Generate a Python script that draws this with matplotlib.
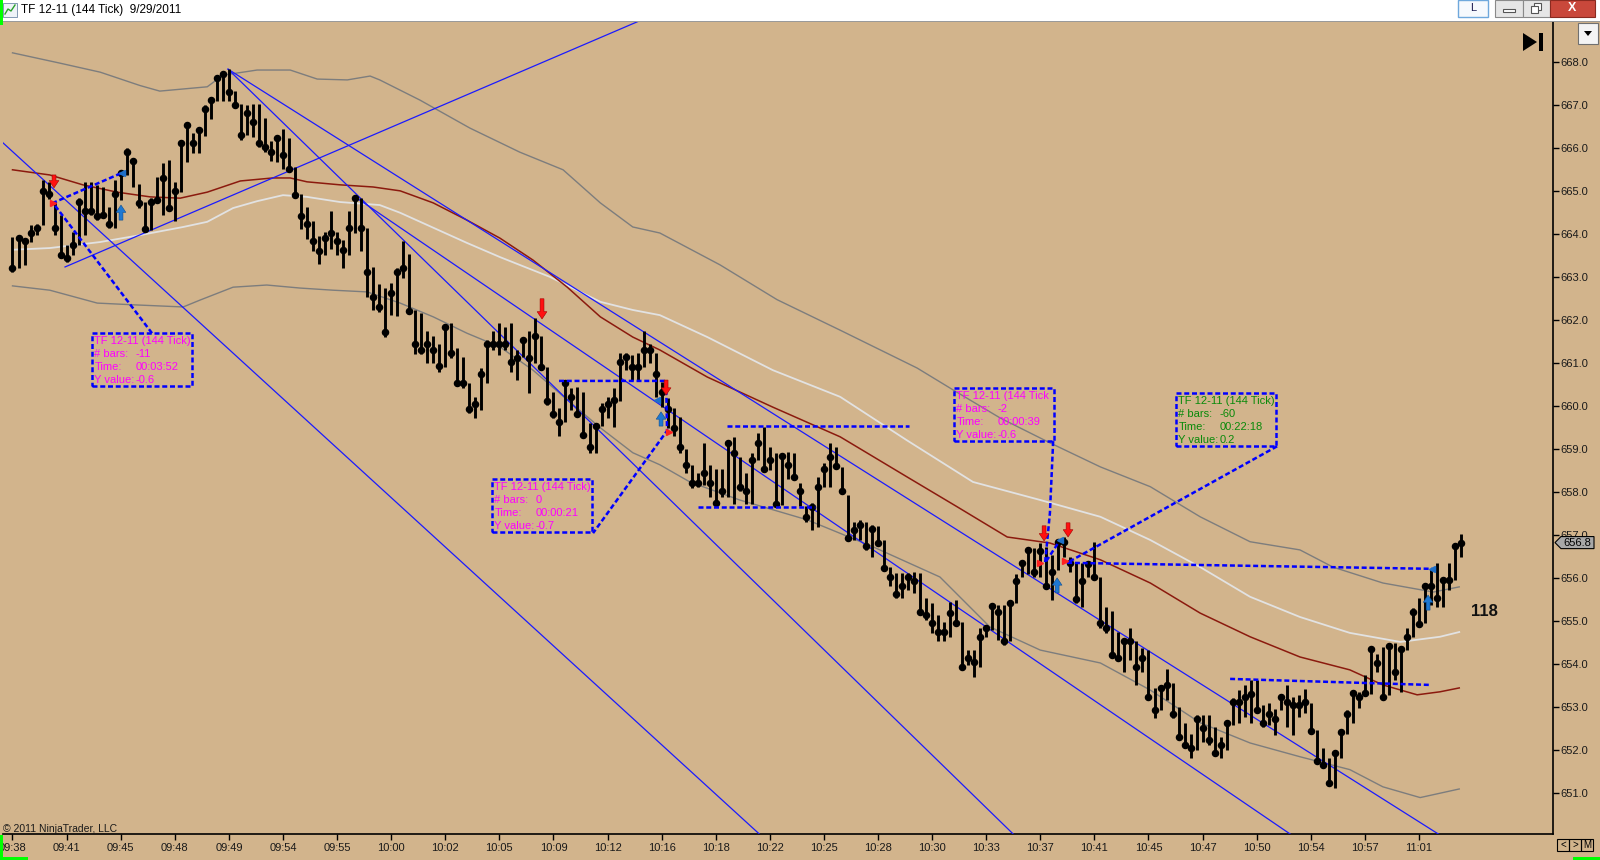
import numpy as np
import matplotlib
matplotlib.use("Agg")
import matplotlib.pyplot as plt
import matplotlib.transforms as mtransforms
from matplotlib.patches import Rectangle, Polygon
from matplotlib.ticker import FormatStrFormatter

# ---- 144 tick bars: high / low / close ----
highs = [
    663.94, 663.96, 663.90, 664.21, 664.25, 665.26, 665.22, 664.76, 664.45, 663.75,
    664.06, 664.84, 665.22, 665.22, 665.15, 665.11, 664.64, 665.26, 665.46, 666.00,
    665.73, 665.18, 664.76, 664.84, 665.34, 665.65, 665.73, 665.22, 666.19, 666.58,
    666.35, 666.50, 667.01, 667.20, 667.70, 667.80, 667.84, 667.33, 667.02, 667.01,
    667.02, 667.02, 666.71, 666.17, 666.29, 666.45, 666.23, 665.57, 664.93, 664.64,
    664.30, 663.95, 664.06, 664.54, 664.06, 663.87, 664.53, 664.88, 664.84, 664.15,
    663.25, 662.84, 662.74, 662.86, 663.21, 663.84, 663.54, 662.24, 662.16, 661.74,
    661.63, 661.46, 661.89, 661.93, 661.35, 661.14, 660.53, 660.22, 660.88, 661.54,
    661.74, 661.93, 661.85, 661.93, 661.31, 661.58, 661.74, 662.05, 661.64, 660.92,
    660.34, 659.95, 660.61, 660.42, 660.44, 660.34, 659.60, 659.57, 660.07, 660.22,
    660.42, 661.23, 661.23, 661.19, 661.23, 661.76, 661.45, 661.25, 660.57, 660.19,
    659.95, 659.76, 659.00, 658.63, 658.44, 659.14, 658.63, 658.53, 658.53, 659.22,
    659.29, 658.83, 658.44, 658.92, 659.37, 659.51, 659.06, 658.92, 658.90, 658.94,
    658.92, 658.21, 657.67, 657.74, 658.36, 658.67, 659.14, 659.06, 658.59, 657.94,
    657.32, 657.36, 657.32, 657.24, 657.22, 656.89, 656.27, 656.13, 656.13, 656.12,
    656.15, 656.13, 655.53, 655.42, 655.14, 654.99, 655.46, 655.50, 654.99, 654.33,
    654.33, 654.84, 654.91, 655.42, 655.38, 655.38, 655.50, 656.11, 656.39, 656.70,
    656.70, 656.81, 656.73, 656.54, 656.89, 656.97, 656.50, 656.35, 656.36, 656.39,
    656.85, 656.04, 655.34, 655.25, 654.76, 654.56, 654.84, 654.53, 654.37, 654.33,
    653.44, 653.52, 653.90, 653.56, 653.01, 652.63, 652.39, 652.82, 652.82, 652.82,
    652.55, 652.32, 652.70, 653.21, 653.40, 653.52, 653.63, 653.63, 653.05, 653.09,
    652.97, 653.32, 653.52, 653.25, 653.29, 653.42, 653.09, 652.47, 652.05, 651.81,
    652.00, 652.47, 652.94, 653.40, 653.36, 653.75, 654.41, 654.25, 654.41, 654.49,
    654.50, 654.41, 654.84, 655.30, 655.53, 655.88, 656.21, 656.35, 656.00, 656.35,
    656.77, 657.04]

lows = [
    663.13, 663.21, 663.29, 663.83, 663.98, 664.21, 664.83, 663.98, 663.44, 663.36,
    663.52, 663.75, 663.98, 664.45, 664.33, 664.37, 664.14, 664.14, 664.80, 665.38,
    665.11, 664.60, 664.06, 664.10, 664.76, 664.45, 664.55, 664.31, 664.99, 665.69,
    665.88, 665.90, 666.29, 666.68, 667.10, 667.10, 667.10, 666.93, 666.19, 666.31,
    666.27, 666.04, 665.92, 665.70, 665.69, 665.52, 665.47, 664.88, 664.12, 663.89,
    663.60, 663.30, 663.52, 663.66, 663.52, 663.21, 663.52, 664.02, 663.60, 662.55,
    662.24, 662.20, 661.62, 662.12, 662.11, 662.98, 662.15, 661.22, 661.22, 661.01,
    661.01, 660.80, 660.91, 661.12, 660.47, 660.42, 659.85, 659.72, 659.91, 660.53,
    661.31, 661.19, 661.31, 660.80, 660.61, 661.15, 660.32, 661.01, 660.84, 660.03,
    659.72, 659.31, 659.64, 659.91, 659.76, 659.29, 658.91, 658.91, 659.53, 659.72,
    659.51, 660.13, 660.84, 660.61, 660.61, 660.92, 661.00, 660.21, 659.99, 659.49,
    659.30, 658.92, 658.44, 658.11, 658.13, 658.17, 657.90, 657.68, 657.90, 657.90,
    657.73, 658.04, 657.73, 657.73, 658.75, 658.48, 658.52, 657.70, 657.70, 658.32,
    658.29, 657.67, 657.32, 657.12, 657.20, 658.13, 658.13, 658.56, 657.97, 656.87,
    656.89, 656.89, 656.66, 656.50, 656.77, 656.17, 655.81, 655.53, 655.53, 655.73,
    655.65, 655.19, 655.03, 654.72, 654.53, 654.53, 654.64, 654.91, 653.87, 653.98,
    653.71, 653.94, 654.64, 654.80, 654.56, 654.45, 654.53, 655.42, 656.04, 656.11,
    656.04, 656.04, 655.80, 655.49, 656.19, 656.50, 656.15, 655.42, 655.34, 656.04,
    655.96, 654.84, 654.72, 654.16, 654.10, 653.83, 654.10, 653.52, 653.83, 653.21,
    652.74, 652.94, 653.17, 652.74, 652.24, 652.05, 651.81, 652.01, 652.20, 652.12,
    651.93, 651.81, 652.01, 652.59, 652.63, 652.78, 652.63, 652.86, 652.55, 652.59,
    652.36, 652.94, 652.55, 652.36, 652.78, 652.86, 652.39, 651.71, 651.58, 651.19,
    651.12, 651.81, 652.39, 652.63, 652.98, 653.29, 653.32, 653.83, 653.21, 653.29,
    653.63, 653.36, 654.33, 654.64, 654.88, 654.95, 655.38, 655.34, 655.34, 655.73,
    655.96, 656.50]

closes = [
    663.22, 663.92, 663.85, 664.02, 664.14, 665.01, 664.93, 664.14, 663.52, 663.44,
    663.75, 664.76, 664.53, 664.53, 664.43, 664.45, 664.24, 664.93, 665.43, 665.92,
    665.71, 664.73, 664.12, 664.76, 664.80, 665.32, 664.62, 665.01, 666.13, 666.53,
    666.13, 666.43, 666.91, 667.13, 667.63, 667.72, 667.32, 667.01, 666.31, 666.83,
    666.62, 666.13, 666.02, 665.92, 666.23, 665.84, 665.52, 664.91, 664.43, 664.23,
    663.84, 663.62, 663.92, 664.02, 663.84, 663.63, 664.14, 664.84, 664.14, 663.13,
    662.53, 662.32, 661.73, 662.63, 663.13, 663.22, 662.22, 661.45, 661.32, 661.45,
    661.31, 660.94, 661.84, 661.23, 660.53, 660.53, 659.93, 660.05, 660.74, 661.45,
    661.45, 661.45, 661.45, 661.04, 661.13, 661.54, 661.13, 661.63, 660.92, 660.13,
    659.82, 659.63, 660.53, 660.22, 659.82, 659.33, 659.05, 659.53, 659.93, 660.05,
    660.15, 661.04, 661.14, 660.92, 660.92, 661.32, 661.32, 660.75, 660.34, 659.93,
    659.50, 659.06, 658.63, 658.22, 658.22, 658.44, 658.22, 657.74, 658.04, 659.14,
    658.92, 658.13, 658.04, 658.74, 659.14, 658.53, 658.75, 657.73, 658.84, 658.63,
    658.35, 658.04, 657.43, 657.65, 658.13, 658.53, 658.83, 658.62, 658.04, 656.93,
    657.12, 657.23, 656.74, 657.14, 656.83, 656.23, 656.04, 655.63, 655.82, 656.04,
    655.94, 655.22, 655.14, 654.95, 654.74, 654.74, 655.20, 654.95, 653.94, 654.14,
    654.06, 654.64, 654.84, 655.36, 655.22, 654.53, 655.43, 655.94, 656.35, 656.66,
    656.15, 656.64, 655.82, 656.15, 656.85, 656.85, 656.36, 655.51, 655.94, 656.33,
    656.04, 654.95, 654.84, 654.22, 654.14, 654.53, 654.53, 653.94, 654.14, 653.25,
    652.94, 653.44, 653.52, 652.84, 652.32, 652.12, 652.05, 652.72, 652.51, 652.25,
    651.94, 652.12, 652.64, 653.13, 653.13, 653.25, 653.32, 652.94, 652.64, 652.84,
    652.72, 653.23, 653.13, 653.05, 653.05, 653.13, 652.46, 651.76, 651.66, 651.25,
    651.94, 652.43, 652.84, 653.34, 653.25, 653.34, 654.35, 654.02, 653.25, 654.43,
    653.83, 654.35, 654.64, 655.22, 654.94, 655.82, 655.82, 655.53, 655.96, 655.96,
    656.74, 656.83]

time_labels = ["09:38", "09:41", "09:45", "09:48", "09:49", "09:54", "09:55", "10:00", "10:02",
               "10:05", "10:09", "10:12", "10:16", "10:18", "10:22", "10:25", "10:28", "10:30",
               "10:33", "10:37", "10:41", "10:45", "10:47", "10:50", "10:54", "10:57", "11:01"]
bars_per_label = 9
y_ticks = np.arange(651, 669)

# ---- indicator lines (bar position, price) ----
upper_idx = [0, 7.9, 14.6, 21.2, 24.5, 32.4, 35.0, 40.7, 46.2, 50.7, 55.7, 59.5, 61.1, 67.8, 76.1,
             84.4, 91.6, 97.8, 103.2, 107.7, 117.7, 127.2, 137.7, 150.5, 156.5, 164.3, 172.6,
             181.0, 189.3, 197.6, 205.9, 214.2, 219.7, 228.0, 236.4, 240.7]
upper_val = [668.22, 667.98, 667.77, 667.46, 667.33, 667.43, 667.70, 667.82, 667.82, 667.61,
             667.59, 667.68, 667.59, 667.12, 666.47, 665.91, 665.50, 664.73, 664.17, 664.03,
             663.29, 662.48, 661.77, 660.89, 660.38, 659.73, 659.15, 658.59, 658.13, 657.43,
             656.85, 656.66, 656.26, 655.89, 655.68, 655.80]

silver_idx = [0, 6.2, 14.6, 21.2, 28.4, 32.4, 36.7, 40.7, 45.0, 49.0, 54.5, 61.1, 64.5, 75.6, 81.1,
              89.4, 97.8, 103.2, 107.7, 115.6, 126.5, 137.7, 148.8, 159.8, 171.0, 181.0, 189.3,
              197.6, 205.9, 214.2, 222.5, 230.9, 237.5, 240.7]
silver_val = [663.64, 663.68, 663.82, 663.98, 664.17, 664.29, 664.61, 664.77, 664.91, 664.87,
              664.75, 664.68, 664.50, 663.80, 663.47, 663.01, 662.43, 662.24, 662.12, 661.61,
              660.84, 660.22, 659.21, 658.24, 657.82, 657.43, 656.89, 656.26, 655.57, 655.10,
              654.73, 654.52, 654.64, 654.75]

ma_idx = [0, 6.2, 11.7, 17.4, 22.9, 27.9, 32.4, 37.9, 43.3, 46.2, 49.0, 54.5, 60.0, 64.5, 70.0,
          75.6, 81.1, 86.6, 92.3, 97.8, 103.2, 107.7, 115.6, 126.5, 137.7, 148.8, 157.2, 165.5,
          172.6, 181.0, 189.3, 197.6, 205.9, 214.2, 222.5, 228.0, 233.7, 237.5, 240.7]
ma_val = [665.50, 665.38, 665.15, 664.98, 664.87, 664.84, 664.98, 665.24, 665.31, 665.31,
          665.22, 665.15, 665.10, 665.01, 664.73, 664.33, 663.91, 663.40, 662.77, 662.08,
          661.61, 661.31, 660.68, 659.98, 659.29, 658.36, 657.66, 656.96, 656.82, 656.43,
          655.89, 655.19, 654.64, 654.17, 653.87, 653.52, 653.29, 653.36, 653.45]

lower_idx = [0, 6.2, 14.1, 20.1, 28.4, 31.2, 36.7, 42.3, 47.8, 53.3, 59.0, 64.5, 70.0, 75.6, 81.1,
             86.6, 92.3, 97.8, 103.2, 107.7, 112.7, 121.0, 132.2, 143.2, 154.3, 162.6, 171.0,
             181.0, 189.3, 197.6, 205.9, 214.2, 222.5, 228.0, 234.2, 240.7]
lower_val = [662.80, 662.70, 662.40, 662.36, 662.31, 662.47, 662.77, 662.82, 662.75, 662.70,
             662.66, 662.40, 662.08, 661.70, 661.38, 660.84, 660.15, 659.50, 658.92, 658.64,
             658.24, 657.82, 657.36, 656.73, 656.03, 654.87, 654.33, 654.03, 653.40, 652.64,
             652.17, 651.85, 651.55, 651.15, 650.90, 651.10]

# ---- drawn trend lines: anchor point and a second point on the ray ----
trend_start = [(-2.08, 666.19), (8.74, 663.24), (35.86, 667.84), (35.86, 667.84), (56.99, 664.87)]
trend_through = [(124.04, 650.08), (102.75, 668.87), (166.14, 650.10), (236.69, 650.10), (212.07, 650.10)]

# ---- dashed drawings ----
level_lines = [([118.88, 149.16], [659.54, 659.54]),
               ([114.06, 133.53], [657.66, 657.66]),
               ([202.58, 235.86], [653.66, 653.52])]
ruler_paths = [([23.21, 6.74, 18.22], [661.70, 664.73, 665.43]),
               ([90.93, 108.74, 108.9, 96.59], [660.59, 660.59, 659.43, 657.05]),
               ([173.14, 172.6, 171.8, 174.3], [659.19, 657.52, 656.36, 656.89]),
               ([210.4, 175.46, 236.18], [659.07, 656.36, 656.22])]
ruler_start_marks = [(6.74, 664.73), (109.24, 659.40), (170.97, 656.36), (175.13, 656.40)]
ruler_end_marks = [(18.22, 665.43), (107.24, 660.15), (174.3, 656.89), (236.18, 656.22)]

box_corner = [(13.23, 661.70), (79.78, 658.31), (156.66, 660.43), (193.59, 660.31)]
box_title = ["TF 12-11 (144 Tick)", "TF 12-11 (144 Tick)", "TF 12-11 (144 Tick", "TF 12-11 (144 Tick)"]
box_bars = ["-11", "0", "-2", "-60"]
box_time = ["00:03:52", "00:00:21", "00:00:39", "00:22:18"]
box_yval = ["-0.6", "-0.7", "-0.6", "0.2"]
box_color = ["#ff00ff", "#ff00ff", "#ff00ff", "#0a8a0a"]

# ---- signal arrows ----
sell_x = [6.91, 88.1, 108.74, 171.63, 175.62]
sell_top = [665.38, 662.50, 660.61, 657.22, 657.29]
sell_tip = [665.08, 662.03, 660.26, 656.87, 656.96]
buy_x = [18.05, 107.9, 173.8, 235.52]
buy_tip = [664.68, 659.87, 656.01, 655.61]
buy_tail = [664.33, 659.54, 655.66, 655.26]

BG = "#D2B48C"
W, H = 1600, 860
plt.rcParams['font.family'] = ['Liberation Sans', 'DejaVu Sans']

fig = plt.figure(figsize=(W / 100, H / 100), dpi=100, facecolor=BG)
ax = fig.add_axes([3 / W, 1 - 834 / H, 1550 / W, 812 / H])
ax.set_facecolor(BG)
# pixel coordinates measured from the top-left corner
PX = mtransforms.Affine2D().scale(1 / W, -1 / H).translate(0, 1) + fig.transFigure

idx = np.arange(len(closes))

ax.plot(upper_idx, upper_val, color="#7d7d7d", lw=1.0, zorder=2)
ax.plot(lower_idx, lower_val, color="#7d7d7d", lw=1.0, zorder=2)
ax.plot(silver_idx, silver_val, color="#e2e2e2", lw=1.3, zorder=2)
ax.plot(ma_idx, ma_val, color="#8b1a0e", lw=1.1, zorder=2)

for (x1, y1), (x2, y2) in zip(trend_start, trend_through):
    ax.plot([x1, x1 + 20 * (x2 - x1)], [y1, y1 + 20 * (y2 - y1)], color="#1a1aff", lw=0.9, zorder=3)

ax.vlines(idx, lows, highs, colors="black", lw=2.1, zorder=4)
ax.plot(idx, closes, "o", color="black", ms=4.4, zorder=5)

DASH = (0, (2.0, 1.1))
for xs, ys in level_lines + ruler_paths:
    ax.plot(xs, ys, color="#0000ff", lw=1.8, ls=DASH, zorder=6)
for x, y in ruler_start_marks:
    ax.plot(x, y, marker=">", color="#ff2020", ms=5, zorder=7)
for x, y in ruler_end_marks:
    ax.plot(x, y, marker="<", color="#1e6fc8", ms=5, zorder=7)

box_w, box_h = 16.64, 1.233
row_h = 0.302
for (bx, by), t, b, tm, yv, c in zip(box_corner, box_title, box_bars, box_time, box_yval, box_color):
    ax.add_patch(Rectangle((bx, by - box_h), box_w, box_h, fill=False, ec="#0000ff",
                           lw=1.8, ls=DASH, zorder=6))
    rows = [(t, ""), ("# bars:", b), ("Time:", tm), ("Y value:", yv)]
    for k, (lab, val) in enumerate(rows):
        yy = by - 0.19 - k * row_h
        ax.text(bx + 0.38, yy, lab, color=c, fontsize=8, va="center", ha="left", zorder=7)
        if val:
            ax.text(bx + 7.3, yy, val, color=c, fontsize=8, va="center", ha="left", zorder=7)

arrow_style = "simple,head_length=0.75,head_width=1.0,tail_width=0.4"
for x, y0, y1 in zip(sell_x, sell_top, sell_tip):
    ax.annotate("", xy=(x, y1), xytext=(x, y0), zorder=8,
                arrowprops=dict(arrowstyle=arrow_style, fc="#ff1010", ec="#a00000", lw=0.4,
                                mutation_scale=7, shrinkA=0, shrinkB=0))
for x, y1, y0 in zip(buy_x, buy_tip, buy_tail):
    ax.annotate("", xy=(x, y1), xytext=(x, y0), zorder=8,
                arrowprops=dict(arrowstyle=arrow_style, fc="#1e78d2", ec="#0d4d8f", lw=0.4,
                                mutation_scale=7, shrinkA=0, shrinkB=0))

ax.set_xlim(-1.58, 256.3)
ax.set_ylim(650.053, 668.937)
ax.yaxis.tick_right()
ax.set_yticks(y_ticks)
ax.yaxis.set_major_formatter(FormatStrFormatter("%.1f"))
ax.set_xticks(idx[::bars_per_label][:len(time_labels)])
ax.set_xticklabels(time_labels)
ax.tick_params(axis="both", direction="out", length=4.3, width=1.0, color="black",
               labelsize=8, labelcolor="#1a1a1a")
ax.tick_params(axis="y", pad=0.8)
ax.tick_params(axis="x", pad=2.5)
for s in ["top", "left"]:
    ax.spines[s].set_visible(False)
for s in ["right", "bottom"]:
    ax.spines[s].set_linewidth(1.2)
    ax.spines[s].set_color("black")

# last price tag on the price axis (covers the tick label behind it, as in the platform)
BL = mtransforms.blended_transform_factory(PX, ax.transData)
last = closes[-1]
d = 0.14
ax.add_artist(Polygon([(1555, last), (1561, last + d), (1594, last + d), (1594, last - d),
                       (1561, last - d)], closed=True, transform=BL, fc="#a8a8a8", ec="black",
                      lw=0.8, zorder=10, clip_on=False))
ax.text(1577, last, f"{last:.1f}", transform=BL, ha="center", va="center", fontsize=8,
        zorder=11, clip_on=False)

# window chrome
fig.add_artist(Rectangle((0, 0), W, 21, transform=PX, fc="white", ec="none"))
fig.add_artist(Rectangle((0, 21), W, 1, transform=PX, fc="#9a9a9a", ec="none"))
fig.add_artist(Rectangle((3, 3), 14, 14, transform=PX, fc="#eef3f8", ec="#6f8aa8", lw=0.6))
fig.add_artist(plt.Line2D([5, 8, 11, 15], [14, 9, 11, 5], transform=PX, color="#2aa02a", lw=1))
fig.text(21, 10.5, "TF 12-11 (144 Tick)  9/29/2011", transform=PX, fontsize=8.5,
         va="center", ha="left", color="black")
fig.add_artist(Rectangle((1458, 0), 30, 17, transform=PX, fc="#f6f9fd", ec="#6fa8dc", lw=1))
fig.text(1473, 8, "L", transform=PX, fontsize=8, ha="center", va="center", color="#1a1a50")
fig.add_artist(Rectangle((1495, 0), 28, 17, transform=PX, fc="#e6e6e6", ec="#8a8a8a", lw=0.8))
fig.add_artist(Rectangle((1503, 9), 12, 3, transform=PX, fc="white", ec="#555555", lw=0.8))
fig.add_artist(Rectangle((1523, 0), 27, 17, transform=PX, fc="#e6e6e6", ec="#8a8a8a", lw=0.8))
fig.add_artist(Rectangle((1534, 3), 7, 7, transform=PX, fc="white", ec="#555555", lw=0.8))
fig.add_artist(Rectangle((1531, 6), 7, 7, transform=PX, fc="white", ec="#555555", lw=0.8))
fig.add_artist(Rectangle((1550, 0), 45, 17, transform=PX, fc="#c9483b", ec="#8a2a20", lw=0.8))
fig.text(1572, 8, "X", transform=PX, fontsize=9, ha="center", va="center", color="white",
         weight="bold")
fig.add_artist(Polygon([(1523, 33), (1523, 51), (1537, 42)], transform=PX, fc="black", ec="none"))
fig.add_artist(Rectangle((1539, 33), 4, 18, transform=PX, fc="black", ec="none"))
fig.add_artist(Rectangle((1578, 23), 20, 21, transform=PX, fc="#f4f4f4", ec="#707070", lw=0.8))
fig.add_artist(Polygon([(1584, 31), (1592, 31), (1588, 36)], transform=PX, fc="black", ec="none"))
for x0, ch in zip([1557, 1569, 1581], ["<", ">", "M"]):
    fig.add_artist(Rectangle((x0, 839), 12, 12, transform=PX, fc="none", ec="black", lw=0.8))
    fig.text(x0 + 6, 845, ch, transform=PX, fontsize=7, ha="center", va="center", color="black")
fig.text(3, 829, "\u00a9 2011 NinjaTrader, LLC", transform=PX, fontsize=7.5, va="center",
         ha="left", color="#1a1a1a")
fig.text(1484, 611, "118", transform=PX, fontsize=12, weight="bold", ha="center",
         va="center", color="#111111")
for x0, y0, w0, h0 in [(0, 0, 3, 25), (0, 835, 3, 25), (0, 857, 28, 3), (1573, 857, 27, 3)]:
    fig.add_artist(Rectangle((x0, y0), w0, h0, transform=PX, fc="#00ff00", ec="none"))

fig.savefig("out.png", dpi=100, facecolor=BG)
